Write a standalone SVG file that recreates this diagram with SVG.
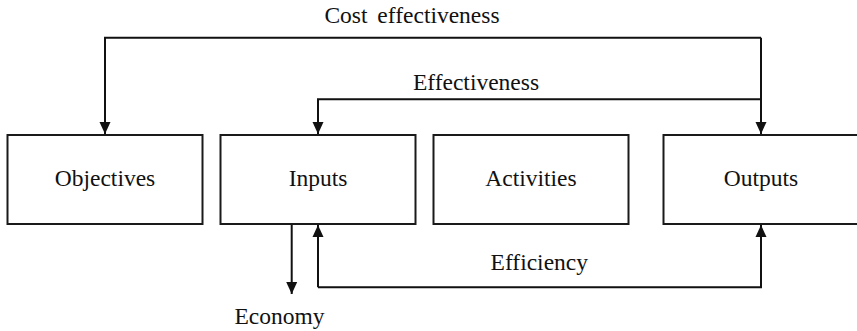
<svg xmlns="http://www.w3.org/2000/svg" width="857" height="331" viewBox="0 0 857 331">
<style>
.box{fill:#fff;stroke:#1a1a1a;stroke-width:2}
.lbl{font-family:"Liberation Serif","Times New Roman",serif;font-size:23.5px;fill:#111;text-anchor:middle}
.con{fill:none;stroke:#111;stroke-width:2}
</style>
<defs>
<marker id="ah" markerUnits="userSpaceOnUse" markerWidth="12" markerHeight="12" viewBox="0 0 12 12" refX="12" refY="6" orient="auto">
<path d="M0,0.5 L12,6 L0,11.5 Z" fill="#111"/>
</marker>
</defs>
<rect width="857" height="331" fill="#fff"/>
<g id="objectives"><rect class="box" x="7.5" y="135" width="195" height="89"/><text class="lbl" x="105" y="186">Objectives</text></g>
<g id="inputs"><rect class="box" x="220.5" y="135" width="195" height="89"/><text class="lbl" x="318" y="186">Inputs</text></g>
<g id="activities"><rect class="box" x="433.5" y="135" width="195" height="89"/><text class="lbl" x="531" y="186">Activities</text></g>
<g id="outputs"><rect class="box" x="663.5" y="135" width="195" height="89"/><text class="lbl" x="761" y="186">Outputs</text></g>
<g id="connectors">
<path class="con" d="M761,37.7 H105 V134" marker-end="url(#ah)"/>
<path class="con" d="M761,37.7 V134" marker-end="url(#ah)"/>
<path class="con" d="M761,99.3 H318 V134" marker-end="url(#ah)"/>
<path class="con" d="M291.7,225 V294" marker-end="url(#ah)"/>
<path class="con" d="M318,287.3 V225" marker-end="url(#ah)"/>
<path class="con" d="M318,287.3 H761 V225" marker-end="url(#ah)"/>
<text class="lbl" x="412" y="22.7" word-spacing="4">Cost effectiveness</text>
<text class="lbl" x="476" y="90">Effectiveness</text>
<text class="lbl" x="539.3" y="270">Efficiency</text>
<text class="lbl" x="279.5" y="324">Economy</text>
</g>
</svg>
